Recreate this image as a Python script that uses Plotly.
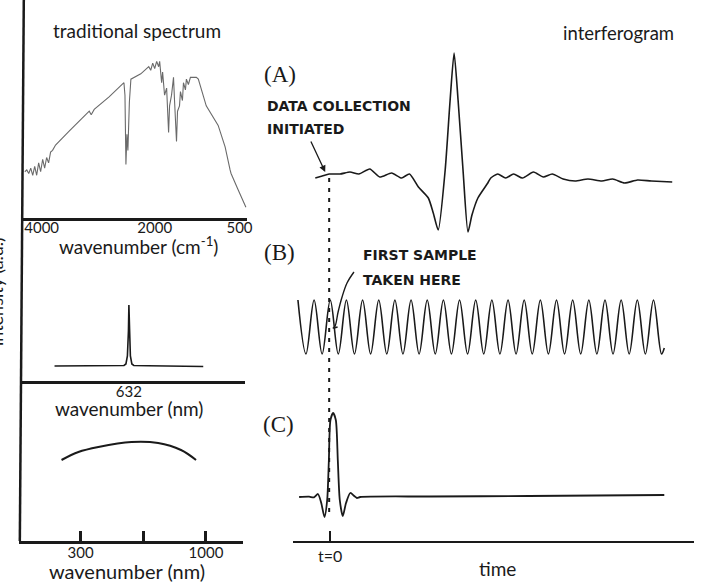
import plotly.graph_objects as go

# ---------------- data ----------------
# traditional spectrum (wavenumber cm-1, intensity a.u.)
spec_wn = [4298, 4263, 4228, 4193, 4158, 4123, 4088, 4053, 4018, 3982, 3947, 3912, 3877,
           3842, 3807, 3754, 3509, 3211, 3158, 3123, 3070, 2807, 2544, 2526, 2509, 2491,
           2474, 2448, 2421, 2246, 2105, 2070, 2035, 2000, 1965, 1930, 1912, 1877, 1860,
           1825, 1789, 1754, 1737, 1702, 1667, 1649, 1614, 1596, 1561, 1544, 1509, 1491,
           1456, 1439, 1404, 1368, 1263, 1228, 1088, 877, 754, 666, 649, 526, 386]
spec_int = [26, 27, 25, 28, 24, 29, 24, 31, 26, 33, 28, 34, 31,
            37, 38, 41, 49, 58, 60, 58, 61, 68, 76, 69, 30, 47,
            38, 65, 78, 81, 85, 83, 87, 84, 88, 85, 88, 76, 82,
            69, 73, 48, 63, 69, 79, 66, 43, 60, 63, 71, 66, 76,
            72, 78, 75, 79, 79, 78, 63, 52, 40, 27, 25, 16, 6]
spec_ticks = [4000, 2000, 500]
spec_ticktext = ["4000", "2000", "500"]

# laser line (nm)
laser_nm = [582, 610, 625, 628.7, 630.0, 631.0, 631.7, 632.0, 632.5, 633.0, 634.0, 635.3, 645, 660, 682]
laser_int = [15, 15, 15.3, 15.5, 17, 25, 50, 76, 50, 25, 17, 15.5, 15.2, 15, 14.5]
laser_ticks = [632]
laser_ticktext = ["632"]

# broadband source (nm)
lamp_nm = [250, 294, 356, 489, 632, 787, 909]
lamp_int = [81, 89, 94, 99, 98, 91, 81]
lamp_ticks = [300, 548, 1000]
lamp_ticktext = ["300", " ", "1000"]

# (A) interferogram
a_t = [-1.5, -0.8, -0.1, 1.0, 2.0, 2.9, 4.0, 5.0, 6.2, 7.2, 8.0, 8.9, 9.9, 10.4, 10.9,
       11.6, 12.1, 12.5, 12.9, 13.4, 13.9, 14.3, 14.9, 15.9, 16.2, 16.9, 17.7, 18.5, 19.4,
       20.5, 21.5, 22.4, 23.5, 24.7, 26.0, 27.4, 28.5, 29.7, 31.0, 32.4, 34.5]
a_y = [-0.2, 0.0, 0.2, 0.2, 0.4, 0.2, 0.7, -0.1, 0.3, -0.2, 0.2, -1.1, -2.2, -3.7, -5.4,
       0.6, 7.6, 12.3, 7.6, 0.6, -5.6, -3.9, -2.2, -0.7, -0.2, 0.2, -0.2, 0.2, -0.2,
       0.4, -0.1, 0.2, -0.3, -0.5, -0.3, -0.5, -0.3, -0.7, -0.4, -0.5, -0.6]

# (B) reference laser interferogram: peaks and troughs
b_t = [-3.25, -2.44, -1.62, -0.81, 0.01, 0.82, 1.64, 2.45, 3.27, 4.08, 4.90, 5.71, 6.53,
       7.34, 8.16, 8.97, 9.79, 10.60, 11.42, 12.23, 13.05, 13.86, 14.68, 15.49, 16.31,
       17.12, 17.94, 18.75, 19.57, 20.38, 21.20, 22.01, 22.83, 23.64, 24.46, 25.27, 26.09,
       26.90, 27.72, 28.53, 29.35, 30.16, 30.98, 31.79, 32.61, 33.42, 33.70]
b_y = [2.7, -2.7, 2.7, -2.7, 2.7, -2.7, 2.7, -2.7, 2.7, -2.7, 2.7, -2.7, 2.7,
       -2.7, 2.7, -2.7, 2.7, -2.7, 2.7, -2.7, 2.7, -2.7, 2.7, -2.7, 2.7,
       -2.7, 2.7, -2.7, 2.7, -2.7, 2.7, -2.7, 2.7, -2.7, 2.7, -2.7, 2.7,
       -2.7, 2.7, -2.7, 2.7, -2.7, 2.7, -2.7, 2.7, -2.7, -2.1]
# pointer "first sample taken here"
ptr_t = [2.4, 1.7, 1.2, 0.8, 0.5, 0.3, 0.75]
ptr_y = [5.5, 4.4, 3.0, 1.5, 0.1, -0.1, 0.0]

# (C) white-light interferogram
c_t = [-3.13, -2.13, -1.63, -1.23, -0.9, -0.57, -0.3, -0.13, 0.03, 0.3, 0.57, 0.77, 0.97,
       1.27, 1.6, 2.03, 2.43, 2.7, 3.03, 10.0, 20.0, 33.7]
c_y = [0.0, 0.03, -0.03, 0.3, -0.6, -2.0, -0.3, 3.7, 7.7, 8.4, 7.7, 3.7, -0.3,
       -1.9, -0.6, 0.4, 0.1, -0.1, 0.0, 0.05, 0.1, 0.2]
c_ticks = [0]
c_ticktext = ["t=0"]

# ---------------- figure ----------------
W, H = 704, 582


def X(p):
    return p / W


def Y(p):
    return 1 - p / H


INK = "#1a1a1a"
SANS = "Lato"

fig = go.Figure()
fig.add_trace(go.Scatter(x=spec_wn, y=spec_int, xaxis="x", yaxis="y", mode="lines",
                         line=dict(color="#6a6a6a", width=1.1), hoverinfo="skip"))
fig.add_trace(go.Scatter(x=laser_nm, y=laser_int, xaxis="x2", yaxis="y2", mode="lines",
                         line=dict(color=INK, width=1.6), hoverinfo="skip"))
fig.add_trace(go.Scatter(x=lamp_nm, y=lamp_int, xaxis="x3", yaxis="y3", mode="lines",
                         line=dict(color=INK, width=2, shape="spline"), hoverinfo="skip"))
fig.add_trace(go.Scatter(x=a_t, y=a_y, xaxis="x4", yaxis="y4", mode="lines",
                         line=dict(color=INK, width=1.6, shape="spline", smoothing=0.6),
                         hoverinfo="skip"))
fig.add_trace(go.Scatter(x=b_t, y=b_y, xaxis="x5", yaxis="y5", mode="lines",
                         line=dict(color=INK, width=1.6, shape="spline", smoothing=1.0),
                         hoverinfo="skip"))
fig.add_trace(go.Scatter(x=ptr_t, y=ptr_y, xaxis="x5", yaxis="y5", mode="lines",
                         line=dict(color=INK, width=1.4, shape="spline"), hoverinfo="skip"))
fig.add_trace(go.Scatter(x=c_t, y=c_y, xaxis="x6", yaxis="y6", mode="lines",
                         line=dict(color=INK, width=1.8, shape="spline", smoothing=0.7),
                         hoverinfo="skip"))

common_x = dict(showgrid=False, zeroline=False, showline=True, linecolor=INK,
                fixedrange=True)
hidden = dict(visible=False, fixedrange=True)
tickf = dict(family=SANS, size=15, color=INK)

fig.update_layout(
    width=W, height=H, margin=dict(l=0, r=0, t=0, b=0),
    paper_bgcolor="white", plot_bgcolor="white", showlegend=False,
    xaxis=dict(domain=[X(22), X(249)], range=[4351, 369], anchor="y", linewidth=2.5,
               tickvals=spec_ticks, ticktext=spec_ticktext, ticks="", tickfont=tickf,
               ticklabelstandoff=-6, **common_x),
    yaxis=dict(domain=[Y(218), Y(40)], range=[0, 100], anchor="x", **hidden),
    xaxis2=dict(domain=[X(22), X(247)], range=[560, 710], anchor="y2", linewidth=2.5,
                tickvals=laser_ticks, ticktext=laser_ticktext, ticks="", tickfont=tickf,
                ticklabelstandoff=-5, **common_x),
    yaxis2=dict(domain=[Y(381), Y(281)], range=[0, 100], anchor="x2", **hidden),
    xaxis3=dict(domain=[X(19), X(245)], type="log", range=[2.220, 3.154], anchor="y3",
                linewidth=2.5, tickvals=lamp_ticks, ticktext=lamp_ticktext,
                ticks="inside", ticklen=10, tickwidth=2.5, tickcolor=INK, tickfont=tickf,
                ticklabelstandoff=-4, **common_x),
    yaxis3=dict(domain=[Y(541), Y(421)], range=[0, 120], anchor="x3", **hidden),
    xaxis4=dict(domain=[X(296), X(700)], range=[-3.7, 36.7], anchor="y4", **hidden),
    yaxis4=dict(domain=[Y(241), Y(46)], range=[-6.5, 13], anchor="x4", **hidden),
    xaxis5=dict(domain=[X(296), X(700)], range=[-3.7, 36.7], anchor="y5", **hidden),
    yaxis5=dict(domain=[Y(365), Y(265)], range=[-3.8, 6.2], anchor="x5", **hidden),
    xaxis6=dict(domain=[X(296), X(700)], range=[-3.7, 36.7], anchor="y6", linewidth=2,
                tickvals=c_ticks, ticktext=c_ticktext, ticks="inside", ticklen=10,
                tickwidth=2, tickcolor=INK, tickfont=dict(family=SANS, size=16, color=INK),
                **common_x),
    yaxis6=dict(domain=[Y(541), Y(405)], range=[-4.4, 9.2], anchor="x6", **hidden),
)

# axis / guide lines
fig.add_shape(type="line", xref="paper", yref="paper", x0=X(24), y0=Y(0), x1=X(20),
              y1=Y(541), line=dict(color=INK, width=2.5))
fig.add_shape(type="line", xref="paper", yref="paper", x0=X(332), y0=Y(178), x1=X(332),
              y1=Y(512), line=dict(color=INK, width=2, dash="4px,6px"))


def label(text, x, y, size=18, family=SANS, xanchor="center", angle=0, bold=False):
    fig.add_annotation(text=f"<b>{text}</b>" if bold else text, x=X(x), y=Y(y),
                       xref="paper", yref="paper", xanchor=xanchor, yanchor="middle",
                       showarrow=False, textangle=angle,
                       font=dict(family=family, size=size, color=INK))


label("traditional spectrum", 138, 30, 19)
label("wavenumber (cm<sup>-1</sup>)", 140, 245, 19)
label("wavenumber (nm)", 130, 409, 19)
label("wavenumber (nm)", 128, 571, 20)
label("interferogram", 624, 33, 18.5)
label("time", 502, 568, 19)
label("intensity (a.u.)", -4, 292, 18, angle=-90)

SERIF = "Liberation Serif"
label("(A)", 282, 74, 23, SERIF)
label("(B)", 282, 252, 23, SERIF)
label("(C)", 281, 424, 23, SERIF)

CAPS = "DejaVu Sans"
label("DATA COLLECTION", 267, 106, 14, CAPS, "left", bold=True)
label("INITIATED", 267, 129, 14, CAPS, "left", bold=True)
label("FIRST SAMPLE", 364, 255, 14, CAPS, "left", bold=True)
label("TAKEN HERE", 364, 280, 14, CAPS, "left", bold=True)

fig.add_annotation(text="", x=X(328), y=Y(172), xref="paper", yref="paper",
                   ax=-15, ay=-32, showarrow=True, arrowhead=2, arrowsize=1,
                   arrowwidth=1.3, arrowcolor=INK)

fig.write_html("out.html")
